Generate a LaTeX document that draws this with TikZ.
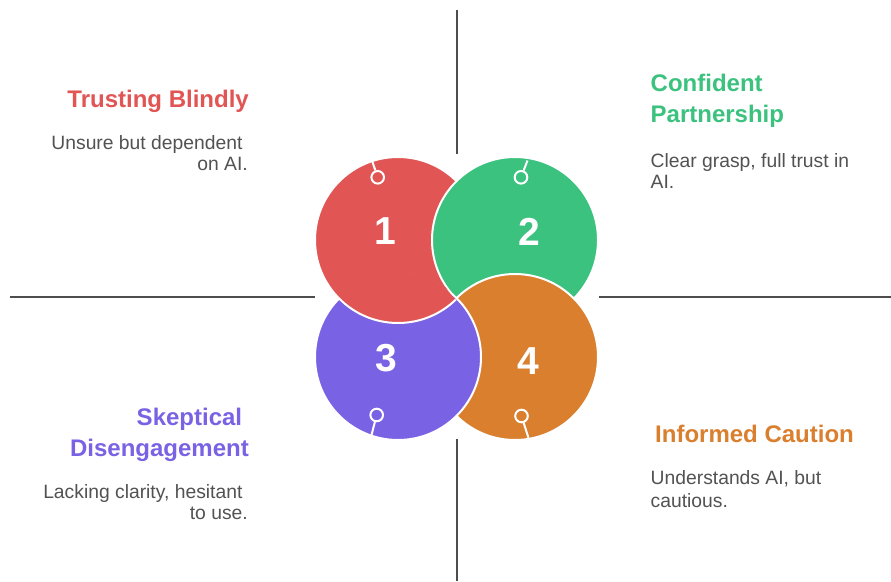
\documentclass[tikz,border=0pt]{standalone}
\usepackage{fontspec}
\setmainfont{Liberation Sans}
\definecolor{redq}{HTML}{E15554}
\definecolor{greenq}{HTML}{3CC27F}
\definecolor{purpleq}{HTML}{7A62E4}
\definecolor{orangeq}{HTML}{DA7F2E}
\definecolor{axisgray}{HTML}{4D4D4D}
\definecolor{bodygray}{HTML}{525252}
\begin{document}
\begin{tikzpicture}[x=1pt,y=-1pt,
  quad/.style={fill=#1, draw=white, line width=2pt},
  axisline/.style={draw=axisgray, line width=2pt},
  num/.style={text=white, inner sep=0pt, font=\fontsize{39}{39}\selectfont\bfseries},
  ttl/.style={inner sep=0pt, font=\fontsize{24}{28}\selectfont\bfseries},
  body/.style={inner sep=0pt, text=bodygray, font=\fontsize{19.3}{22}\selectfont},
  ringmark/.style={circle, draw=white, line width=2pt, minimum size=12.6pt, inner sep=0pt},
  ringline/.style={draw=white, line width=2pt}]

% canvas
\fill[white] (0,0) rectangle (891,581);
\useasboundingbox (0,0) rectangle (891,581);

% quadrant axes
\coordinate (vt0) at (457,10);   \coordinate (vt1) at (457,154);
\coordinate (vb0) at (457,439);  \coordinate (vb1) at (457,581);
\coordinate (hl0) at (10,297);   \coordinate (hl1) at (315,297);
\coordinate (hr0) at (599,297);  \coordinate (hr1) at (891,297);
\draw[axisline] (vt0) -- (vt1);
\draw[axisline] (vb0) -- (vb1);
\draw[axisline] (hl0) -- (hl1);
\draw[axisline] (hr0) -- (hr1);

% circle centres
\coordinate (c1) at (398,240);
\coordinate (c2) at (515,240);
\coordinate (c3) at (398,357);
\coordinate (c4) at (515,357);

% overlapping circles: each one lies over its neighbour in a cycle
\path[quad=redq]    (c1) circle[radius=83pt];
\path[quad=greenq]  (c2) circle[radius=83pt];
\path[quad=orangeq] (c4) circle[radius=83pt];
\path[quad=purpleq] (c3) circle[radius=83pt];
% the red circle closes the cycle by lying over the purple one,
% while staying under the green one
\begin{scope}[even odd rule]
  \clip (c3) circle[radius=84.5pt];
  \clip (c2) circle[radius=84pt] (-10,-10) rectangle (901,591);
  \path[quad=redq] (c1) circle[radius=83pt];
\end{scope}

% numbers
\node[num] (n1) at (385.5,231) {1};
\node[num] (n2) at (529.3,232) {2};
\node[num] (n3) at (386,358) {3};
\node[num] (n4) at (528.8,361) {4};

% ring markers on the outer rims
\node[ringmark] (p1) at (377.7,177.3) {};
\node[ringmark] (p2) at (521,177.3) {};
\node[ringmark] (p3) at (376.7,415) {};
\node[ringmark] (p4) at (521.5,416) {};
\coordinate (e1) at (372.5,162);
\coordinate (e2) at (527.5,160.5);
\coordinate (e3) at (371.5,435);
\coordinate (e4) at (528.5,438);
\draw[ringline] (p1) -- (e1);
\draw[ringline] (p2) -- (e2);
\draw[ringline] (p3) -- (e3);
\draw[ringline] (p4) -- (e4);

% quadrant 1 (top left)
\node[ttl, text=redq, anchor=base east] (t1) at (249,107) {Trusting Blindly};
\node[body, anchor=base east] (b1a) at (248,149) {Unsure but dependent\kern\fontdimen2\font};
\node[body, anchor=base east] (b1b) at (248,170) {on AI.};

% quadrant 2 (top right)
\node[ttl, text=greenq, anchor=base west] (t2a) at (650.5,91) {Confident};
\node[ttl, text=greenq, anchor=base west] (t2b) at (650.5,122) {Partnership};
\node[body, anchor=base west] (b2a) at (650.5,167) {Clear grasp, full trust in};
\node[body, anchor=base west] (b2b) at (650.5,188) {AI.};

% quadrant 3 (bottom left)
\node[ttl, text=purpleq, anchor=base east] (t3a) at (249,425) {Skeptical\kern\fontdimen2\font};
\node[ttl, text=purpleq, anchor=base east] (t3b) at (249,456) {Disengagement};
\node[body, anchor=base east] (b3a) at (248,498) {Lacking clarity, hesitant\kern\fontdimen2\font};
\node[body, anchor=base east] (b3b) at (248,519) {to use.};

% quadrant 4 (bottom right)
\node[ttl, text=orangeq, anchor=base west] (t4) at (655,442) {Informed Caution};
\node[body, anchor=base west] (b4a) at (650.5,484) {Understands AI, but};
\node[body, anchor=base west] (b4b) at (650.5,507) {cautious.};
\end{tikzpicture}
\end{document}
